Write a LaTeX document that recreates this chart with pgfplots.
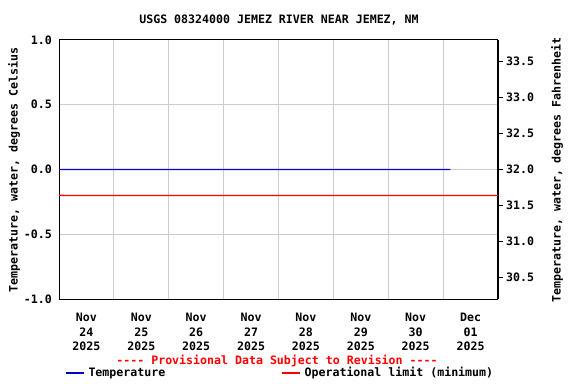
\documentclass[border=0pt]{standalone}
\usepackage{pgfplots}
\pgfplotsset{compat=1.18}
\usepackage{fontspec}
\setmainfont{DejaVu Sans Mono}[Ligatures=TeXOff]
\definecolor{gridgray}{RGB}{204,204,204}
\definecolor{tempblue}{RGB}{0,0,204}
\definecolor{limred}{RGB}{255,0,0}
\begin{document}
\begin{tikzpicture}[font=\fontsize{11.6bp}{14.5bp}\selectfont\bfseries]
\useasboundingbox (0,0) rectangle (576bp,384bp);
\begin{axis}[
  at={(59bp,85bp)}, anchor=south west,
  scale only axis, width=439bp, height=259bp,
  xmin=0, xmax=8, ymin=-1, ymax=1,
  xtick={0.5,1.5,2.5,3.5,4.5,5.5,6.5,7.5},
  xticklabels={{Nov\\24\\2025},{Nov\\25\\2025},{Nov\\26\\2025},{Nov\\27\\2025},{Nov\\28\\2025},{Nov\\29\\2025},{Nov\\30\\2025},{Dec\\01\\2025}},
  xticklabel style={align=center, anchor=north, inner sep=0pt, yshift=-14bp, font=\fontsize{11.6bp}{14.5bp}\selectfont\bfseries},
  minor xtick={1,2,3,4,5,6,7},
  xminorgrids=true, xmajorgrids=false,
  ytick={-1,-0.5,0,0.5,1},
  yticklabels={-1.0,-0.5,0.0,0.5,1.0},
  yticklabel style={anchor=east, inner sep=0pt, xshift=-7bp, font=\fontsize{11.6bp}{14.5bp}\selectfont\bfseries},
  ymajorgrids=true,
  major tick length=0pt, minor tick length=0pt,
  ytick pos=left, xtick pos=bottom,
  grid style={gridgray, line width=1bp},
  minor grid style={gridgray, line width=1bp},
  axis line style={black, line width=1bp},
  legend columns=2,
  legend cell align=left,
  legend style={at={(0.0137,-0.2857)}, anchor=west, draw=none, fill=none, inner sep=0pt,
    font=\fontsize{11.6bp}{14.5bp}\selectfont\bfseries,
    /tikz/every even column/.append style={column sep=114bp}},
  legend image code/.code={\draw[#1] (0bp,0bp) -- (18bp,0bp); \path (20bp,0bp);},
]
\addplot [draw=tempblue, line width=1.3bp, mark=none] table {
x y
0 0.0006
7.13 0
};
\addlegendentry{Temperature}
\addplot [draw=limred, line width=1.3bp, mark=none] table {
x y
0 -0.2
8 -0.2006
};
\addlegendentry{Operational limit (minimum)}
\end{axis}
\begin{axis}[
  at={(59bp,85bp)}, anchor=south west,
  scale only axis, width=439bp, height=259bp,
  xmin=0, xmax=8, ymin=30.2, ymax=33.8,
  axis x line=none, axis y line*=right,
  ytick={30.5,31,31.5,32,32.5,33,33.5},
  yticklabels={30.5,31.0,31.5,32.0,32.5,33.0,33.5},
  yticklabel style={anchor=west, inner sep=0pt, xshift=3bp, font=\fontsize{11.6bp}{14.5bp}\selectfont\bfseries},
  major tick length=5bp, tick align=outside,
  tick style={black, line width=1bp},
  axis line style={black, line width=1bp},
]
\end{axis}
\node[font=\fontsize{11.6bp}{14.5bp}\selectfont\bfseries] at (279bp,364bp) {USGS 08324000 JEMEZ RIVER NEAR JEMEZ, NM};
\node[rotate=90, font=\fontsize{11.6bp}{14.5bp}\selectfont\bfseries] at (14bp,214bp) {Temperature, water, degrees Celsius};
\node[rotate=90, font=\fontsize{11.6bp}{14.5bp}\selectfont\bfseries] at (557bp,214bp) {Temperature, water, degrees Fahrenheit};
\node[limred, font=\fontsize{11.6bp}{14.5bp}\selectfont\bfseries] at (277bp,23bp) {---- Provisional Data Subject to Revision ----};
\end{tikzpicture}
\end{document}
